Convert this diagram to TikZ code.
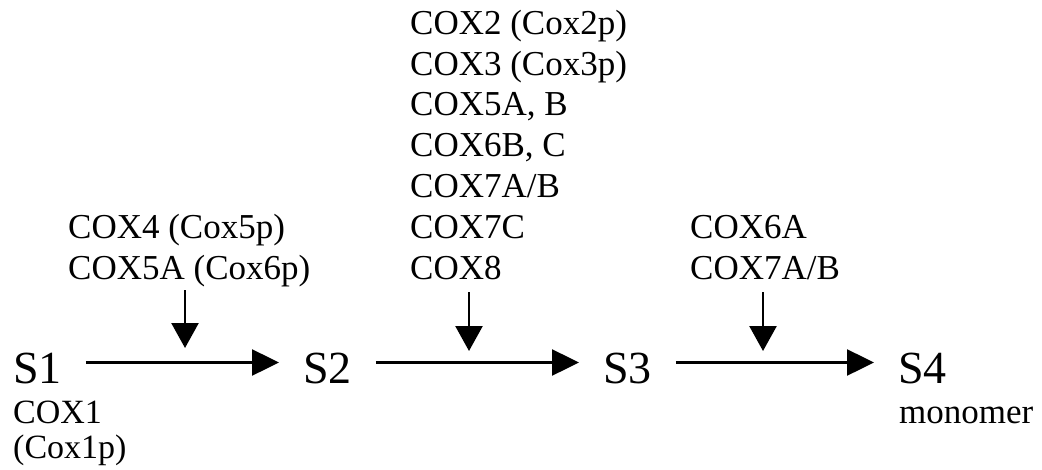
\documentclass[tikz,border=0pt]{standalone}
\usepackage{fontspec}
\setmainfont{Liberation Serif}
\usetikzlibrary{arrows.meta}
\begin{document}
\begin{tikzpicture}[x=1pt,y=-1pt,
  state/.style={inner sep=0pt, anchor=base west, font=\fontsize{46}{50}\selectfont},
  sub/.style={inner sep=0pt, anchor=base west, align=left, font=\fontsize{35}{40.8}\selectfont},
  flow/.style={line width=2.5pt, -{Triangle[length=27pt,width=26pt]}},
  feed/.style={line width=2.5pt, -{Triangle[length=25pt,width=27pt]}}]
\useasboundingbox (0,0) rectangle (1042,469);

% assembly intermediates
\node[state] (s1) at (13,383) {S1};
\node[state] (s2) at (303,383) {S2};
\node[state] (s3) at (603,383) {S3};
\node[state] (s4) at (898,383) {S4};

% subunits (anchored at the baseline of the last line)
\node[sub, font=\fontsize{34}{35}\selectfont] (c1) at (13,458) {COX1\\(Cox1p)};
\node[sub] (c2) at (68,279) {COX4 (Cox5p)\\COX5A (Cox6p)};
\node[sub] (c3) at (410,279) {COX2 (Cox2p)\\COX3 (Cox3p)\\COX5A, B\\COX6B, C\\COX7A/B\\COX7C\\COX8};
\node[sub] (c4) at (690,279) {COX6A\\COX7A/B};
\node[sub] (mono) at (899,423) {monomer};

% main pathway
\draw[flow] ([shift={(24pt,20.5pt)}]s1.base east) -- ([shift={(-24pt,20.5pt)}]s2.base west);
\draw[flow] ([shift={(24pt,20.5pt)}]s2.base east) -- ([shift={(-24pt,20.5pt)}]s3.base west);
\draw[flow] ([shift={(24pt,20.5pt)}]s3.base east) -- ([shift={(-24pt,20.5pt)}]s4.base west);

% subunit entry points
\coordinate (f1) at (185,290);
\coordinate (t1) at (185,348);
\coordinate (f2) at (469,292);
\coordinate (t2) at (469,351);
\coordinate (f3) at (763,292);
\coordinate (t3) at (763,351);
\draw[feed] (f1) -- (t1);
\draw[feed] (f2) -- (t2);
\draw[feed] (f3) -- (t3);
\end{tikzpicture}
\end{document}
